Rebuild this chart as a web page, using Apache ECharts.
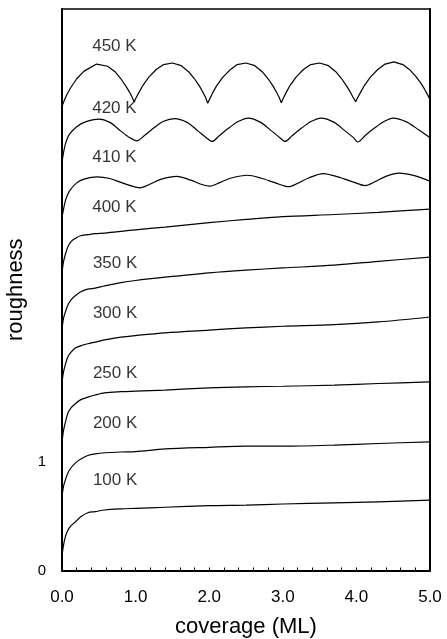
<!DOCTYPE html>
<html><head><meta charset="utf-8">
<script src="https://cdn.jsdelivr.net/npm/echarts@6/dist/echarts.min.js"></script>
<style>html,body{margin:0;padding:0;background:#fff}#c{width:447px;height:639px}</style>
</head><body><div id="c"></div>
<script>
// coverage (ML) sample points for the monotonic curves
const covMono = [0, 0.02, 0.05, 0.08, 0.12, 0.18, 0.25, 0.35, 0.45, 0.58, 0.8, 1.0, 1.4, 2.0, 2.5, 3.0, 3.7, 4.3, 5.0];
const r100 = [0.13, 0.23, 0.32, 0.37, 0.41, 0.445, 0.49, 0.53, 0.54, 0.555, 0.565, 0.57, 0.58, 0.595, 0.60, 0.61, 0.62, 0.63, 0.645];
const r200 = [0.675, 0.77, 0.84, 0.895, 0.94, 0.985, 1.02, 1.055, 1.07, 1.08, 1.087, 1.09, 1.115, 1.13, 1.14, 1.14, 1.15, 1.165, 1.18];
const r250 = [1.17, 1.28, 1.37, 1.445, 1.49, 1.53, 1.565, 1.59, 1.61, 1.63, 1.64, 1.645, 1.655, 1.675, 1.685, 1.69, 1.70, 1.715, 1.73];
const r300 = [1.72, 1.82, 1.90, 1.96, 2.00, 2.04, 2.06, 2.08, 2.095, 2.115, 2.14, 2.155, 2.18, 2.205, 2.225, 2.24, 2.255, 2.28, 2.325];
const r350 = [2.21, 2.31, 2.38, 2.435, 2.48, 2.52, 2.555, 2.58, 2.59, 2.61, 2.64, 2.66, 2.69, 2.73, 2.755, 2.775, 2.80, 2.835, 2.875];
const r400 = [2.73, 2.83, 2.91, 2.97, 3.015, 3.045, 3.07, 3.08, 3.09, 3.095, 3.11, 3.125, 3.15, 3.19, 3.22, 3.245, 3.265, 3.285, 3.315];

const cov410 = [0, 0.02, 0.05, 0.1, 0.2, 0.3, 0.48, 0.65, 0.8, 0.95, 1.06, 1.2, 1.35, 1.56, 1.75, 1.9, 2.01, 2.15, 2.3, 2.52, 2.7, 2.9, 3.08, 3.2, 3.35, 3.55, 3.75, 3.95, 4.12, 4.25, 4.4, 4.58, 4.8, 5.0];
const r410 = [3.24, 3.31, 3.40, 3.48, 3.555, 3.59, 3.61, 3.595, 3.56, 3.525, 3.51, 3.545, 3.59, 3.615, 3.58, 3.54, 3.525, 3.56, 3.60, 3.625, 3.60, 3.555, 3.52, 3.55, 3.60, 3.64, 3.61, 3.565, 3.53, 3.565, 3.615, 3.645, 3.62, 3.57];

const cov420 = [0, 0.02, 0.05, 0.1, 0.2, 0.3, 0.5, 0.65, 0.8, 0.92, 1.02, 1.12, 1.25, 1.38, 1.53, 1.7, 1.85, 1.96, 2.04, 2.14, 2.27, 2.4, 2.53, 2.7, 2.85, 2.96, 3.03, 3.13, 3.26, 3.39, 3.52, 3.7, 3.85, 3.96, 4.02, 4.12, 4.25, 4.38, 4.5, 4.68, 4.85, 5.0];
const r420 = [3.74, 3.83, 3.92, 4.00, 4.07, 4.11, 4.14, 4.11, 4.03, 3.97, 3.94, 3.99, 4.06, 4.12, 4.145, 4.11, 4.03, 3.97, 3.935, 3.99, 4.06, 4.12, 4.15, 4.11, 4.03, 3.97, 3.935, 3.99, 4.06, 4.12, 4.15, 4.11, 4.03, 3.97, 3.93, 3.99, 4.06, 4.12, 4.15, 4.115, 4.04, 3.97];

const cov450 = [0, 0.03, 0.07, 0.12, 0.2, 0.3, 0.47, 0.62, 0.72, 0.8, 0.87, 0.92, 0.95, 0.98,
  1.01, 1.05, 1.1, 1.18, 1.28, 1.38, 1.5, 1.62, 1.72, 1.8, 1.87, 1.92, 1.95, 1.98,
  2.01, 2.05, 2.1, 2.18, 2.28, 2.38, 2.5, 2.62, 2.72, 2.8, 2.87, 2.92, 2.95, 2.98,
  3.01, 3.05, 3.1, 3.18, 3.28, 3.38, 3.5, 3.62, 3.72, 3.8, 3.87, 3.92, 3.95, 3.99,
  4.02, 4.06, 4.11, 4.19, 4.29, 4.39, 4.51, 4.63, 4.73, 4.81, 4.88, 4.93, 4.97, 5.0];
const r450 = [4.255, 4.31, 4.37, 4.43, 4.51, 4.58, 4.645, 4.625, 4.575, 4.51, 4.44, 4.385, 4.345, 4.30,
  4.34, 4.39, 4.45, 4.525, 4.595, 4.64, 4.655, 4.63, 4.575, 4.51, 4.44, 4.38, 4.34, 4.285,
  4.33, 4.385, 4.445, 4.52, 4.59, 4.64, 4.655, 4.63, 4.575, 4.51, 4.44, 4.38, 4.34, 4.29,
  4.335, 4.39, 4.45, 4.525, 4.595, 4.64, 4.655, 4.63, 4.575, 4.51, 4.44, 4.385, 4.345, 4.30,
  4.34, 4.39, 4.45, 4.525, 4.595, 4.645, 4.665, 4.64, 4.59, 4.53, 4.465, 4.41, 4.36, 4.32];

// curve labels
const tempLabels = ['450 K', '420 K', '410 K', '400 K', '350 K', '300 K', '250 K', '200 K', '100 K'];
const labelX = [0.41, 0.41, 0.41, 0.41, 0.42, 0.42, 0.42, 0.42, 0.42];
const labelY = [4.81, 4.24, 3.79, 3.33, 2.82, 2.36, 1.81, 1.35, 0.83];

const xTicks = [0, 1, 2, 3, 4, 5];
const yTicks = [0, 1];

const pairs = (xs, ys) => xs.map((x, i) => [x, ys[i]]);
const FONT = "'Liberation Sans', Arial, sans-serif";
const INK = '#000';

const lineSeries = (name, xs, ys, smooth) => ({
  name, type: 'line', data: pairs(xs, ys), symbol: 'none', smooth: smooth,
  lineStyle: { color: INK, width: 1.2 }, xAxisIndex: 0, yAxisIndex: 0, z: 3
});

const chart = echarts.init(document.getElementById('c'));
chart.setOption({
  animation: false,
  backgroundColor: '#fff',
  grid: { left: 62, right: 17, top: 9, bottom: 68.5, containLabel: false, outerBoundsMode: 'none' },
  xAxis: [{
    type: 'value', min: 0, max: 5, interval: 1,
    name: 'coverage (ML)', nameLocation: 'middle', nameGap: 45,
    nameTextStyle: { fontFamily: FONT, fontSize: 22, color: INK },
    axisLine: { show: true, onZero: false, lineStyle: { color: INK, width: 2 } },
    axisTick: { show: true, inside: true, length: 3, lineStyle: { color: INK, width: 1 } },
    minorTick: { show: true, splitNumber: 5, length: 3, lineStyle: { color: INK, width: 1 } },
    axisLabel: { margin: 18, fontFamily: FONT, fontSize: 17, color: INK,
      formatter: v => xTicks.includes(v) ? v.toFixed(1) : '' },
    splitLine: { show: false }
  }, {
    type: 'value', position: 'top', min: 0, max: 5,
    axisLine: { show: true, onZero: false, lineStyle: { color: INK, width: 1.6 } },
    axisTick: { show: false }, axisLabel: { show: false }, splitLine: { show: false }
  }],
  yAxis: [{
    type: 'value', min: 0, max: 5.15, interval: 1,
    name: 'roughness', nameLocation: 'middle', nameGap: 29,
    nameTextStyle: { fontFamily: FONT, fontSize: 22, color: INK },
    axisLine: { show: true, onZero: false, lineStyle: { color: INK, width: 2 } },
    axisTick: { show: false },
    axisLabel: { margin: 16, fontFamily: FONT, fontSize: 15, color: INK, showMaxLabel: false,
      formatter: v => yTicks.includes(v) ? String(v) : '' },
    splitLine: { show: false }
  }, {
    type: 'value', position: 'right', min: 0, max: 5.15,
    axisLine: { show: true, onZero: false, lineStyle: { color: INK, width: 2 } },
    axisTick: { show: false }, axisLabel: { show: false }, splitLine: { show: false }
  }],
  series: [
    lineSeries('100 K', covMono, r100, 0.3),
    lineSeries('200 K', covMono, r200, 0.3),
    lineSeries('250 K', covMono, r250, 0.3),
    lineSeries('300 K', covMono, r300, 0.3),
    lineSeries('350 K', covMono, r350, 0.3),
    lineSeries('400 K', covMono, r400, 0.3),
    lineSeries('410 K', cov410, r410, 0.3),
    lineSeries('420 K', cov420, r420, 0.3),
    lineSeries('450 K', cov450, r450, false),
    {
      type: 'scatter', symbolSize: 0, z: 5,
      data: tempLabels.map((t, i) => ({ value: [labelX[i], labelY[i]], name: t })),
      label: { show: true, position: 'right', distance: 0, formatter: p => p.name,
        fontFamily: FONT, fontSize: 17, color: INK }
    }
  ]
});
</script>
</body></html>
